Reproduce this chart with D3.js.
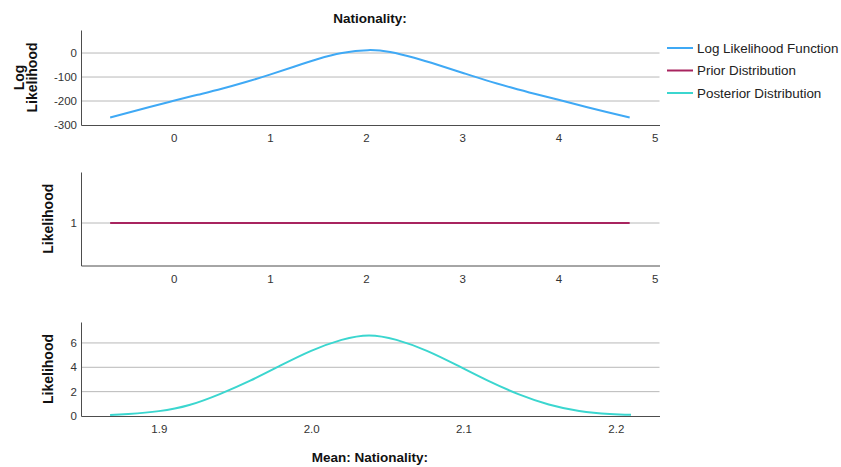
<!DOCTYPE html>
<html>
<head>
<meta charset="utf-8">
<script src="https://cdn.jsdelivr.net/npm/d3@7"></script>
<style>
    body { margin: 0; background: #fff; }
    #chart { width: 841px; height: 467px; }
    text { font-family: Arial, "Liberation Sans", sans-serif; }
</style>
</head>
<body>
<div id="chart"></div>
<script>
// values
const llX = [-0.66, -0.25, 0, 0.25, 0.5, 0.75, 1.0, 1.25, 1.5, 1.75, 2.02, 2.25, 2.5, 2.75, 3.0, 3.25, 3.5, 3.75, 4.0, 4.25, 4.5, 4.74];
const llY = [-269, -225, -199, -174, -149, -121, -90, -57, -25, 0, 12, 4, -20, -50, -82, -114, -143, -170, -195, -221, -246, -269];

const priorX = [-0.66, 4.74];
const priorY = [1, 1];

const postX = [1.868, 1.88, 1.90, 1.92, 1.94, 1.96, 1.98, 2.00, 2.02, 2.038, 2.056, 2.076, 2.096, 2.116, 2.136, 2.156, 2.176, 2.196, 2.21];
const postY = [0.08, 0.17, 0.4, 0.9, 1.8, 2.9, 4.15, 5.35, 6.25, 6.62, 6.25, 5.35, 4.15, 2.9, 1.8, 0.95, 0.42, 0.17, 0.1];

const llTicksY = [-300, -200, -100, 0];
const priorTicksY = [1];
const postTicksY = [0, 2, 4, 6];
const meanTicksX = [0, 1, 2, 3, 4, 5];
const postTicksX = [1.9, 2.0, 2.1, 2.2];

const legendNames = ["Log Likelihood Function", "Prior Distribution", "Posterior Distribution"];
const legendColors = ["#3fa9f5", "#a8245f", "#3bd6cf"];

const chartTitle = "Nationality:";
const xTitle = "Mean: Nationality:";

let svg = d3.select("#chart").append("svg")
    .attr("width", 841)
    .attr("height", 467);

const left = 81, right = 659.5;
const fontFamily = "Arial, 'Liberation Sans', sans-serif";
const plain = d => String(d);   // keeps the ascii hyphen as minus sign

function drawPanel(p) {
    let x = d3.scaleLinear().domain(p.xDomain).range([left, right]);
    let y = d3.scaleLinear().domain(p.yDomain).range([p.bottom, p.top]);
    let g = svg.append("g");

    // gridlines
    g.selectAll(".grid")
        .data(p.yTicks.filter(d => d !== p.yDomain[0]))
        .enter()
        .append("line")
        .attr("x1", left)
        .attr("x2", right)
        .attr("y1", d => y(d))
        .attr("y2", d => y(d))
        .attr("stroke", "#b8b8b8")
        .attr("stroke-width", 1);

    // y axis
    let yAxis = g.append("g")
        .attr("transform", `translate(${left},0)`)
        .call(d3.axisLeft(y).tickValues(p.yTicks).tickSize(0).tickPadding(4).tickFormat(plain));
    yAxis.select(".domain").attr("stroke", "#4d4d4d");
    yAxis.selectAll("text").attr("font-size", 11.5).attr("fill", "#333").attr("font-family", fontFamily);

    // x axis
    let xAxis = g.append("g")
        .attr("transform", `translate(0,${p.bottom})`)
        .call(d3.axisBottom(x).tickValues(p.xTicks).tickSize(0).tickPadding(9).tickFormat(p.xFormat));
    xAxis.select(".domain").attr("stroke", "#4d4d4d");
    xAxis.selectAll("text").attr("font-size", 11.5).attr("fill", "#333").attr("font-family", fontFamily);

    // curve
    let line = d3.line()
        .x(d => x(d[0]))
        .y(d => y(d[1]))
        .curve(d3.curveNatural);

    g.append("path")
        .datum(d3.zip(p.xs, p.ys))
        .attr("d", line)
        .attr("fill", "none")
        .attr("stroke", p.color)
        .attr("stroke-width", 2);

    // y title
    let cy = (p.top + p.bottom) / 2;
    p.yTitle.forEach((t, i) => {
        svg.append("text")
            .attr("transform", `translate(${p.yTitleX[i]},${cy}) rotate(-90)`)
            .attr("text-anchor", "middle")
            .attr("dy", "0.35em")
            .attr("font-size", 14)
            .attr("font-weight", "bold")
            .attr("fill", "#111")
            .text(t);
    });
}

drawPanel({
    top: 30, bottom: 125,
    xDomain: [-0.963, 5.05], yDomain: [-300, 96],
    xTicks: meanTicksX, yTicks: llTicksY, xFormat: plain,
    xs: llX, ys: llY, color: legendColors[0],
    yTitle: ["Log", "Likelihood"], yTitleX: [19, 32]
});

drawPanel({
    top: 172, bottom: 265.5,
    xDomain: [-0.963, 5.05], yDomain: [0, 2.2],
    xTicks: meanTicksX, yTicks: priorTicksY, xFormat: plain,
    xs: priorX, ys: priorY, color: legendColors[1],
    yTitle: ["Likelihood"], yTitleX: [48]
});

drawPanel({
    top: 322, bottom: 416,
    xDomain: [1.8489, 2.2287], yDomain: [0, 7.72],
    xTicks: postTicksX, yTicks: postTicksY, xFormat: d3.format(".1f"),
    xs: postX, ys: postY, color: legendColors[2],
    yTitle: ["Likelihood"], yTitleX: [48]
});

// titles
svg.append("text")
    .attr("x", 370).attr("y", 23)
    .attr("text-anchor", "middle")
    .attr("font-size", 13.5)
    .attr("font-weight", "bold")
    .attr("fill", "#111")
    .text(chartTitle);

svg.append("text")
    .attr("x", 370).attr("y", 462)
    .attr("text-anchor", "middle")
    .attr("font-size", 13.5)
    .attr("font-weight", "bold")
    .attr("fill", "#111")
    .text(xTitle);

// legend
let legend = svg.append("g")
    .attr("transform", "translate(667,48)");

let items = legend.selectAll(".item")
    .data(legendNames)
    .enter()
    .append("g")
    .attr("transform", (d, i) => `translate(0,${i * 22.5})`);

items.append("line")
    .attr("x1", 0).attr("x2", 26)
    .attr("stroke", (d, i) => legendColors[i])
    .attr("stroke-width", 2);

items.append("text")
    .attr("x", 30)
    .attr("dy", "0.35em")
    .attr("font-size", 13.4)
    .attr("fill", "#222")
    .text(d => d);
</script>
</body>
</html>
